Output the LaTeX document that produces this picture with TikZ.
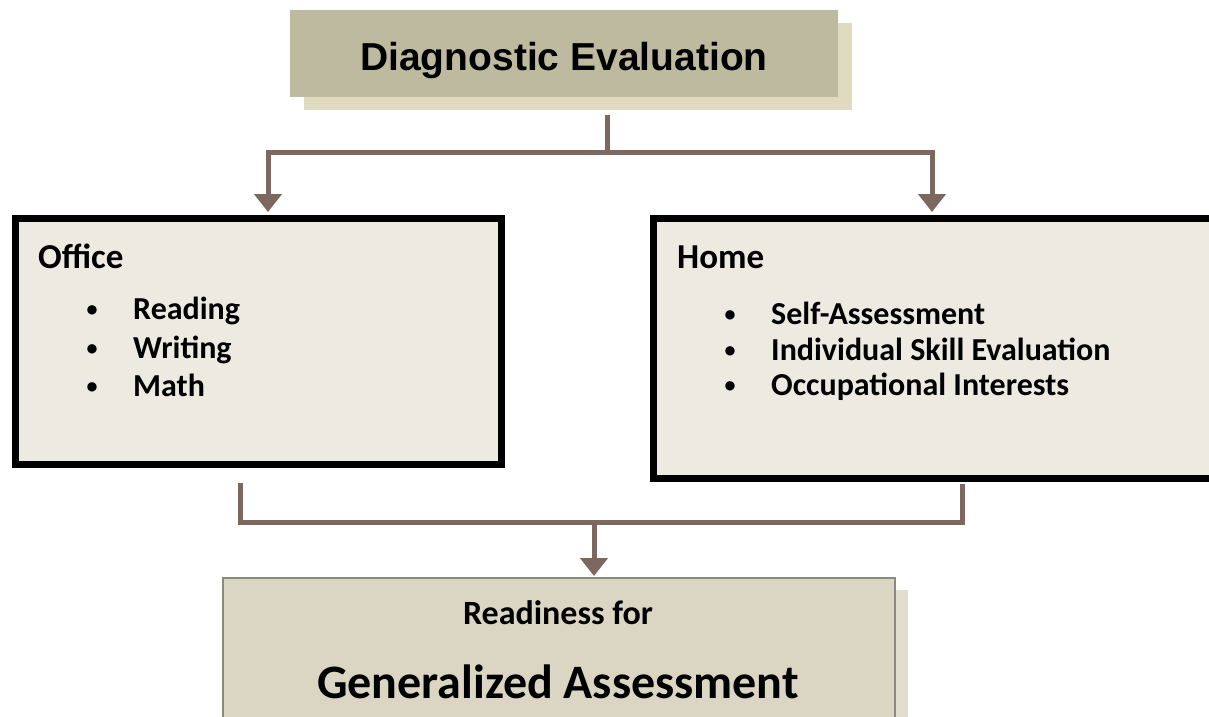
\documentclass[tikz,border=0pt]{standalone}
\usepackage{fontspec}
\setmainfont{Carlito}
\newfontfamily\arialfont{Liberation Sans}
\usetikzlibrary{arrows.meta}
\definecolor{topfill}{RGB}{190,186,160}
\definecolor{topshadow}{RGB}{224,218,192}
\definecolor{boxfill}{RGB}{237,234,225}
\definecolor{botfill}{RGB}{219,214,195}
\definecolor{botshadow}{RGB}{226,221,206}
\definecolor{conn}{RGB}{125,104,96}
\definecolor{botborder}{RGB}{140,138,128}
\tikzset{
  conline/.style={draw=conn, line width=5pt},
  conarrow/.style={conline, -{Triangle[width=27pt,length=18pt]}},
  bigbox/.style={draw=black, line width=7pt, fill=boxfill},
  head/.style={anchor=base west, inner sep=0pt, font=\fontsize{35}{40}\selectfont\bfseries},
  item/.style={anchor=base west, inner sep=0pt, font=\fontsize{32}{38}\selectfont\bfseries},
  bul/.style={anchor=base, inner sep=0pt, font=\fontsize{22}{26}\selectfont\bfseries},
}
\begin{document}
\begin{tikzpicture}[x=1pt,y=-1pt]
\useasboundingbox (0,0) rectangle (1209,716);
\fill[white] (0,0) rectangle (1209,716);
% top box
\fill[topshadow] (304,23) rectangle (852,110);
\node[fill=topfill, minimum width=548pt, minimum height=87pt, inner sep=0pt] (top) at (564,53.5) {};
\node[anchor=base, inner sep=0pt, font=\arialfont\fontsize{39}{44}\selectfont\bfseries] (toptxt) at (564,70) {Diagnostic Evaluation};
% office box
\node[bigbox, minimum width=486pt, minimum height=246pt, inner sep=0pt] (office) at (258.5,341.5) {};
\node[head] (officeh) at (38,268) {Office};
\node[bul] (b1) at (92,316) {•};
\node[item] (o1) at (133,319) {Reading};
\node[bul] (b2) at (92,355) {•};
\node[item] (o2) at (133,358) {Writing};
\node[bul] (b3) at (92,393) {•};
\node[item] (o3) at (133,396) {Math};
% home box
\node[bigbox, minimum width=562pt, minimum height=260pt, inner sep=0pt] (home) at (934.5,348.5) {};
\node[head] (homeh) at (677,268) {Home};
\node[bul] (h1b) at (730,321) {•};
\node[item] (h1) at (771,324) {Self-Assessment};
\node[bul] (h2b) at (730,357) {•};
\node[item] (h2) at (771,360) {Individual Skill Evaluation};
\node[bul] (h3b) at (730,392) {•};
\node[item] (h3) at (771,395) {Occupational Interests};
% bottom box
\fill[botshadow] (236,590) rectangle (908,730);
\node[draw=botborder, line width=2pt, fill=botfill, minimum width=672pt, minimum height=150pt, inner sep=0pt] (bot) at (559,653) {};
\node[anchor=base, inner sep=0pt, font=\fontsize{34}{40}\selectfont\bfseries] (r1) at (558,624) {Readiness for};
\node[anchor=base, inner sep=0pt, font=\fontsize{48}{54}\selectfont\bfseries] (r2) at (558,698) {Generalized Assessment};
% connectors top
\coordinate (s0) at (607,115);
\coordinate (s1) at (607,152);
\coordinate (sl) at (268,152);
\coordinate (sr) at (932,152);
\draw[conline] (s0) -- (s1);
\draw[conline, line cap=rect] (sl) -- (sr);
\draw[conarrow] (sl) -- (268,212);
\draw[conarrow] (sr) -- (932,212);
% connectors bottom
\coordinate (ol) at (240,483);
\coordinate (ob) at (240,522);
\coordinate (hb) at (962,522);
\coordinate (hl) at (962,484);
\coordinate (mid) at (594,522);
\draw[conline, line join=miter] (ol) -- (ob) -- (hb) -- (hl);
\draw[conarrow] (mid) -- (594,576);
\end{tikzpicture}
\end{document}
